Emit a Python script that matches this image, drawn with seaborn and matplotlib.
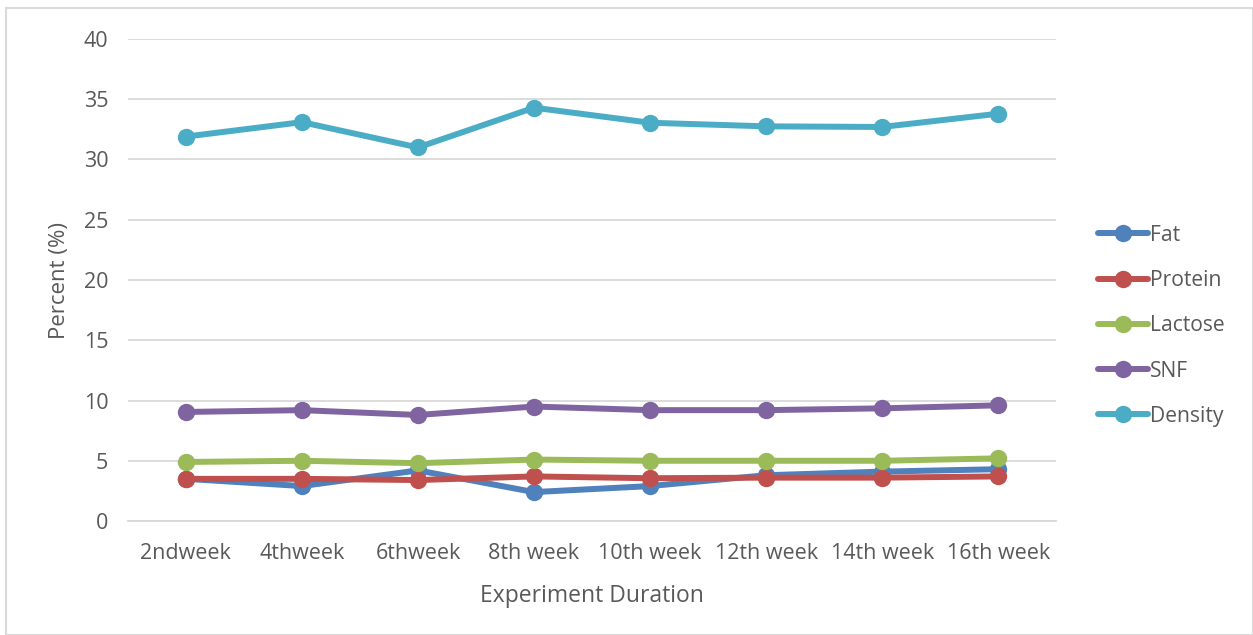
import matplotlib.pyplot as plt
import matplotlib.patches as patches
import pandas as pd
import seaborn as sns

# Data
weeks = ["2ndweek", "4thweek", "6thweek", "8th week", "10th week",
         "12th week", "14th week", "16th week"]
fat = [3.5, 2.9, 4.2, 2.4, 2.9, 3.8, 4.1, 4.3]
protein = [3.5, 3.5, 3.4, 3.7, 3.55, 3.6, 3.6, 3.7]
lactose = [4.9, 5.0, 4.8, 5.1, 5.0, 5.0, 5.0, 5.2]
snf = [9.05, 9.2, 8.8, 9.5, 9.2, 9.2, 9.35, 9.6]
density = [31.9, 33.1, 31.0, 34.3, 33.05, 32.75, 32.7, 33.8]

series_names = ["Fat", "Protein", "Lactose", "SNF", "Density"]
colors = ["#4F81BD", "#C0504D", "#9BBB59", "#8064A2", "#4BACC6"]

df = pd.DataFrame({"week": weeks, "Fat": fat, "Protein": protein,
                   "Lactose": lactose, "SNF": snf, "Density": density})
df_long = df.melt(id_vars="week", var_name="series", value_name="value")

sns.set_style("white")
plt.rcParams["font.family"] = ["Open Sans", "DejaVu Sans"]
text_color = "#595959"

fig = plt.figure(figsize=(12.53, 6.35), dpi=100)
ax = fig.add_axes([0.102, 0.1795, 0.741, 0.7591])

sns.lineplot(data=df_long, x="week", y="value", hue="series",
             hue_order=series_names, palette=colors, marker="o",
             markersize=12.5, markeredgewidth=0, linewidth=4.3,
             sort=False, ax=ax)

ax.set_xlim(-0.5, len(weeks) - 0.5)
ax.set_ylim(0, 40)
ax.set_yticks(range(0, 41, 5))
ax.yaxis.grid(True, color="#D9D9D9", linewidth=1.3)
ax.set_axisbelow(True)
for s in ["top", "right", "left"]:
    ax.spines[s].set_visible(False)
ax.spines["bottom"].set_color("#D9D9D9")
ax.spines["bottom"].set_linewidth(1.3)
ax.tick_params(axis="both", length=0, labelsize=15.5, colors=text_color)
ax.tick_params(axis="x", pad=16)
ax.tick_params(axis="y", pad=14)

ax.set_xlabel("Experiment Duration", fontsize=16.5, color=text_color, labelpad=14)
ax.set_ylabel("Percent (%)", fontsize=16, color=text_color, labelpad=10)

leg = ax.legend(loc="center left", bbox_to_anchor=(1.024, 0.405), frameon=False,
                fontsize=15.2, handlelength=2.4, handletextpad=0.1,
                labelspacing=1.15)
for t in leg.get_texts():
    t.set_color(text_color)
for h in leg.legend_handles:
    h.set_linewidth(4.3)

# light border around the whole chart
fig.patches.append(patches.Rectangle((0.005, 0.0), 0.995, 0.988,
                                     transform=fig.transFigure, fill=False,
                                     edgecolor="#D9D9D9", linewidth=1.5))

fig.savefig("out.png", dpi=100)
